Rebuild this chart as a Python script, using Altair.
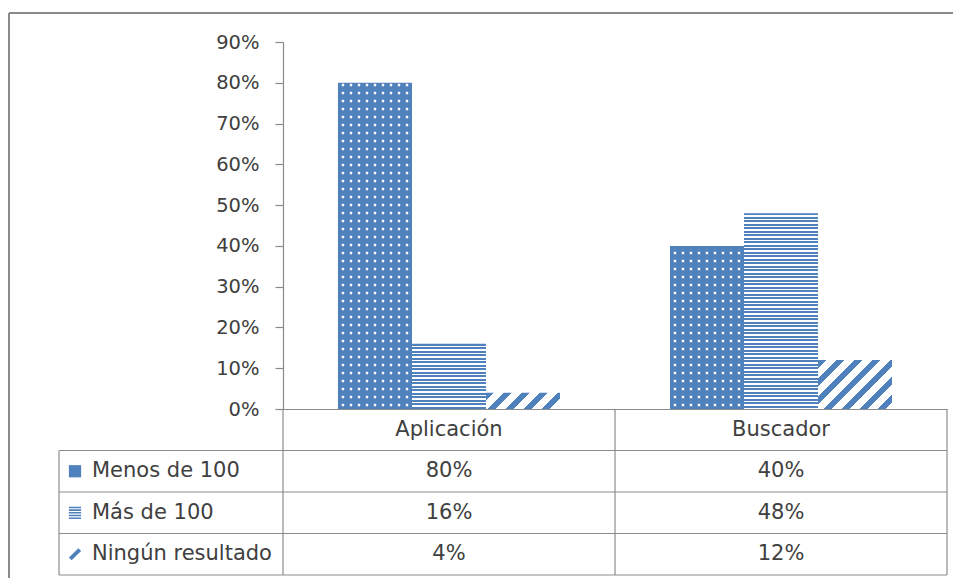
import altair as alt
import pandas as pd

# ---------------- data ----------------
categories = ["Aplicación", "Buscador"]
series = ["Menos de 100", "Más de 100", "Ningún resultado"]
menos_de_100 = [0.80, 0.40]
mas_de_100 = [0.16, 0.48]
ningun_resultado = [0.04, 0.12]
y_ticks = [0.0, 0.1, 0.2, 0.3, 0.4, 0.5, 0.6, 0.7, 0.8, 0.9]

# ---------------- style / layout ----------------
FONT = "DejaVu Sans"
BLUE = "#4f81bd"
GRAY = "#8a8a8a"
TXT = "#404040"
W, H = 664, 367          # plot area of the bar panel
TH = 166                 # table height
YMAX = 0.9
PXU = H / YMAX           # pixels per unit of value
PO = 0.743               # outer padding of the series offset scale
BAR_W = (W / 2) / (3 + 2 * PO)

rows = []
for s, vals in zip(series, [menos_de_100, mas_de_100, ningun_resultado]):
    for c, v in zip(categories, vals):
        rows.append({"cat": c, "series": s, "value": v, "label": f"{round(v * 100)}%"})
df = pd.DataFrame(rows)

xsc = alt.Scale(domain=categories, paddingInner=0, paddingOuter=0)
xaxis = alt.Axis(labels=False, ticks=False, title=None, grid=False,
                 domainColor=GRAY, domainWidth=1.2)
x_enc = alt.X("cat:N", scale=xsc, axis=xaxis)
xoff = alt.XOffset("series:N", scale=alt.Scale(domain=series, paddingInner=0, paddingOuter=PO))
ysc = alt.Scale(domain=[0, YMAX], nice=False, zero=True)
yaxis = alt.Axis(values=y_ticks, format=".0%", title=None, grid=False,
                 domainColor=GRAY, domainWidth=1.2, tickColor=GRAY, tickWidth=1.2,
                 tickSize=8, labelPadding=16, labelFontSize=19.5, labelColor=TXT,
                 labelFont=FONT)


def y_of(field):
    return alt.Y(field, scale=ysc, axis=yaxis)


def stripe_stops(n_periods, frac_blue):
    stops = []
    k = 0
    while k < n_periods:
        a = k / n_periods
        b = min((k + frac_blue) / n_periods, 1.0)
        c = min((k + 1) / n_periods, 1.0)
        stops += [{"offset": a, "color": BLUE}, {"offset": b, "color": BLUE},
                  {"offset": b, "color": "white"}, {"offset": c, "color": "white"}]
        k += 1
    return stops


base = alt.Chart(df)

# dotted bars
menos_bars = base.transform_filter(alt.datum.series == series[0]).mark_bar(
    color=BLUE, opacity=1).encode(x=x_enc, xOffset=xoff, y=y_of("value:Q"))

half = BAR_W / 2
DOT = 2.4
dot_path = " ".join(
    f"M{(-32 + 8 * j - DOT / 2) / half:.4f},{-DOT / 2 / half:.4f}"
    f"h{DOT / half:.4f}v{DOT / half:.4f}h{-DOT / half:.4f}Z"
    for j in range(9))
dots = base.transform_filter(alt.datum.series == series[0]).transform_calculate(
    k=f"sequence(0, floor((datum.value*{PXU} - 6)/8) + 1)"
).transform_flatten(["k"]).transform_calculate(
    yv=f"(4 + 8*datum.k)/{PXU}"
).mark_point(shape=dot_path, size=BAR_W ** 2, filled=True, color="white",
             opacity=1, strokeWidth=0).encode(x=x_enc, xOffset=xoff, y=y_of("yv:Q"))

layers = [menos_bars, dots]

# horizontal-line bars
for c, v in zip(categories, mas_de_100):
    hpx = v * PXU
    grad = {"gradient": "linear", "x1": 0, "y1": 0, "x2": 0, "y2": 1,
            "stops": stripe_stops(hpx / 3.5, 0.55)}
    layers.append(base.transform_filter(
        (alt.datum.series == series[1]) & (alt.datum.cat == c)
    ).mark_bar(fill=grad, opacity=1).encode(x=x_enc, xOffset=xoff, y=y_of("value:Q")))

# diagonal-stripe bars
for c, v in zip(categories, ningun_resultado):
    hpx = v * PXU
    s = (BAR_W + hpx) / (BAR_W ** 2 + hpx ** 2)
    grad = {"gradient": "linear", "x1": 0, "y1": 0, "x2": BAR_W * s, "y2": hpx * s,
            "stops": stripe_stops((BAR_W + hpx) / 18.0, 0.45)}
    layers.append(base.transform_filter(
        (alt.datum.series == series[2]) & (alt.datum.cat == c)
    ).mark_bar(fill=grad, opacity=1).encode(x=x_enc, xOffset=xoff, y=y_of("value:Q")))

# outer chart frame
one = alt.Chart(pd.DataFrame({"a": [0]}))
frame_top = one.mark_rule(color=GRAY, strokeWidth=2).encode(
    x=alt.value(-274), x2=alt.value(670), y=alt.value(-29))
frame_left = one.mark_rule(color=GRAY, strokeWidth=2).encode(
    x=alt.value(-274), y=alt.value(-29), y2=alt.value(536))
layers += [frame_top, frame_left]

top = alt.layer(*layers).properties(width=W, height=H)

# ---------------- data table ----------------
ROW_H = TH / 4
tsc = alt.Scale(domain=[" "] + series, paddingInner=0, paddingOuter=0)
txsc = alt.Scale(domain=categories, paddingInner=0, paddingOuter=0)
tx = alt.X("cat:N", scale=txsc, axis=None)
ty = alt.Y("row:N", scale=tsc, axis=None)

tdf = df.rename(columns={"series": "row"})
values_text = alt.Chart(tdf).mark_text(fontSize=21, color=TXT, font=FONT).encode(
    x=tx, y=ty, text="label:N")

hdr = pd.DataFrame({"cat": categories, "row": [" "] * len(categories)})
header_text = alt.Chart(hdr).mark_text(fontSize=21, color=TXT, font=FONT).encode(
    x=tx, y=ty, text="cat:N")

lab = pd.DataFrame({"row": series})
row_text = alt.Chart(lab).mark_text(fontSize=21, color=TXT, font=FONT, align="left").encode(
    x=alt.value(-191), y=ty, text="row:N")

icon_paths = {
    series[0]: "M-1,-1H1V1H-1Z",
    series[1]: " ".join(f"M-1,{y0:.2f}H1V{y0 + 0.26:.2f}H-1Z" for y0 in [-1.0, -0.56, -0.12, 0.32, 0.76]),
    series[2]: "M-1,0.55L0.55,-1L1,-0.55L-0.55,1Z",
}
icons = []
for s_name in series:
    icons.append(alt.Chart(lab).transform_filter(alt.datum.row == s_name).mark_point(
        shape=icon_paths[s_name], size=150, filled=True, color=BLUE, opacity=1, strokeWidth=0
    ).encode(x=alt.value(-208), y=ty))

LC = "#8c8c8c"
hlines = alt.Chart(lab).mark_rule(color=LC, strokeWidth=1.2).encode(
    y=alt.Y("row:N", scale=tsc, axis=None, bandPosition=0),
    x=alt.value(-224), x2=alt.value(W))
bottom_line = one.mark_rule(color=LC, strokeWidth=1.2).encode(
    y=alt.value(TH), x=alt.value(-224), x2=alt.value(W))
vlines = alt.Chart(pd.DataFrame({"cat": categories})).mark_rule(color=LC, strokeWidth=1.2).encode(
    x=alt.X("cat:N", scale=txsc, axis=None, bandPosition=0),
    y=alt.value(0), y2=alt.value(TH))
right_line = one.mark_rule(color=LC, strokeWidth=1.2).encode(
    x=alt.value(W), y=alt.value(0), y2=alt.value(TH))
left_line = one.mark_rule(color=LC, strokeWidth=1.2).encode(
    x=alt.value(-224), y=alt.value(ROW_H), y2=alt.value(TH))

table = alt.layer(hlines, bottom_line, vlines, right_line, left_line,
                  values_text, header_text, row_text, *icons).properties(width=W, height=TH)

chart = alt.vconcat(top, table, spacing=0, bounds="flush").properties(
    padding={"left": 8, "top": 12, "right": 0, "bottom": 0}
).configure(font=FONT, view=alt.ViewConfig(stroke=None))

chart.save("out.html", embed_options={"renderer": "svg", "actions": False})
